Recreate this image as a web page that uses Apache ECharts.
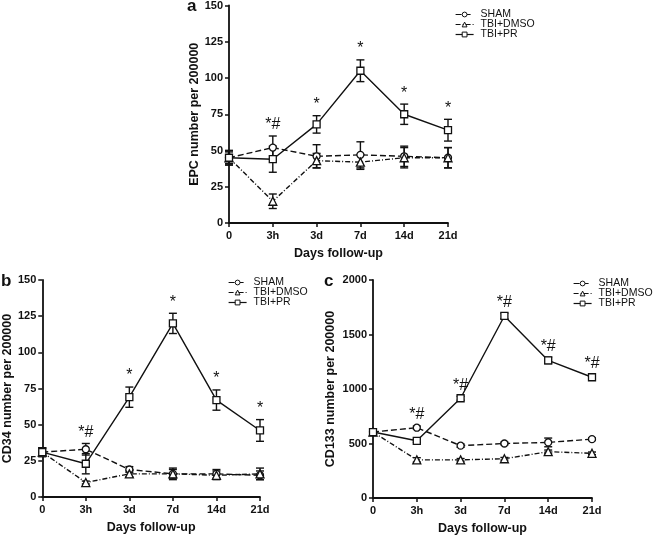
<!DOCTYPE html>
<html><head><meta charset="utf-8">
<script src="https://cdn.jsdelivr.net/npm/echarts@6/dist/echarts.min.js"></script>
<style>html,body{margin:0;padding:0;background:#fff}#c{width:653px;height:546px}</style>
</head><body><div id="c"></div>
<script>
const days = ['0','3h','3d','7d','14d','21d'];
const groups = ['SHAM','TBI+DMSO','TBI+PR'];

// Panel a: EPC
const epcSham = [45,52,46,47,46,45];
const epcShamErr = [5,8,8,9,7,7];
const epcDmso = [45,15,43,42,45,45];
const epcDmsoErr = [4,5,5,5,7,7];
const epcPr = [45,44,68,105,75,64];
const epcPrErr = [5,9,6,7.5,7,7.5];
const epcMarks = ['','*#','*','*','*','*'];
const epcTicks = [0,25,50,75,100,125,150];

// Panel b: CD34
const cd34Sham = [31,33,19,16,16,15];
const cd34ShamErr = [3,4,2,3,3,3];
const cd34Dmso = [31,10,16,16,15,16];
const cd34DmsoErr = [3,1,2,4,3,4];
const cd34Pr = [31,23,69,120,67,46];
const cd34PrErr = [3,7,7,7,7,7.5];
const cd34Marks = ['','*#','*','*','*','*'];
const cd34Ticks = [0,25,50,75,100,125,150];

// Panel c: CD133
const cd133Sham = [605,645,480,500,510,540];
const cd133ShamErr = [15,15,15,12,40,12];
const cd133Dmso = [605,350,350,360,425,410];
const cd133DmsoErr = [15,20,12,12,15,12];
const cd133Pr = [605,525,915,1670,1262,1108];
const cd133PrErr = [15,15,18,25,30,20];
const cd133Marks = ['','*#','*#','*#','*#','*#'];
const cd133Ticks = [0,500,1000,1500,2000];

const FONT = 'Liberation Sans';
const styles = [
  {symbol:'circle', line:[6,3]},
  {symbol:'triangle', line:[5,2,1,2]},
  {symbol:'rect', line:'solid'}
];

const panels = [
  {name:'EPC number per 200000', vals:[epcSham,epcDmso,epcPr], errs:[epcShamErr,epcDmsoErr,epcPrErr], marks:epcMarks, ticks:epcTicks,
   grid:{left:229,top:5,width:219,height:218}, legend:{left:455,top:9}, letter:{t:'a',left:187,top:-2}},
  {name:'CD34 number per 200000', vals:[cd34Sham,cd34Dmso,cd34Pr], errs:[cd34ShamErr,cd34DmsoErr,cd34PrErr], marks:cd34Marks, ticks:cd34Ticks,
   grid:{left:41,top:280,width:219,height:217}, legend:{left:228,top:277}, letter:{t:'b',left:1,top:273}},
  {name:'CD133 number per 200000', vals:[cd133Sham,cd133Dmso,cd133Pr], errs:[cd133ShamErr,cd133DmsoErr,cd133PrErr], marks:cd133Marks, ticks:cd133Ticks,
   grid:{left:373,top:280,width:219,height:218}, legend:{left:573,top:278}, letter:{t:'c',left:324,top:273}}
];

const chart = echarts.init(document.getElementById('c'), null, {renderer:'canvas'});
const grid=[], xAxis=[], yAxis=[], series=[], legend=[], title=[];
const axisLine = {lineStyle:{color:'#111',width:1.8}};
panels.forEach((p,k)=>{
  grid.push(p.grid);
  xAxis.push({type:'category', gridIndex:k, data:days, boundaryGap:false,
    axisLine:axisLine, axisTick:{show:true,length:4,inside:false,lineStyle:{color:'#111',width:1.5}},
    axisLabel:{fontFamily:FONT,fontWeight:'bold',fontSize:11,color:'#111',margin:7},
    name:'Days follow-up', nameLocation:'middle', nameGap:24,
    nameTextStyle:{fontFamily:FONT,fontWeight:'bold',fontSize:12.5,color:'#111'}, splitLine:{show:false}});
  const mx = p.ticks[p.ticks.length-1];
  yAxis.push({type:'value', gridIndex:k, min:0, max:mx, interval:p.ticks[1]-p.ticks[0],
    axisLine:{show:true,...axisLine}, axisTick:{show:true,length:4,lineStyle:{color:'#111',width:1.5}},
    axisLabel:{fontFamily:FONT,fontWeight:'bold',fontSize:11,color:'#111',margin:6, formatter:v=>String(v)},
    splitLine:{show:false},
    name:p.name, nameLocation:'middle', nameGap: mx>=1000?36:28, nameRotate:90,
    nameTextStyle:{fontFamily:FONT,fontWeight:'bold',fontSize:12.5,color:'#111'}});
  groups.forEach((g,s)=>{
    series.push({type:'line', name:g, xAxisIndex:k, yAxisIndex:k, data:p.vals[s],
      symbol:styles[s].symbol, symbolSize: s===1?8:7, showSymbol:true,
      itemStyle:{color:'#fff',borderColor:'#111',borderWidth:1.3},
      lineStyle:{color:'#111',width:1.4,type:styles[s].line}, z:3, animation:false});
    const ed = p.vals[s].map((v,i)=>[i,v,p.errs[s][i]]);
    series.push({type:'custom', xAxisIndex:k, yAxisIndex:k, data:ed, z:2, silent:true, animation:false,
      renderItem:(params,api)=>{
        const i=api.value(0), v=api.value(1), e=api.value(2);
        const hi=api.coord([i,v+e]), lo=api.coord([i,v-e]);
        const st={stroke:'#111',lineWidth:1.4};
        return {type:'group',children:[
          {type:'line',shape:{x1:hi[0],y1:hi[1],x2:lo[0],y2:lo[1]},style:st},
          {type:'line',shape:{x1:hi[0]-4,y1:hi[1],x2:hi[0]+4,y2:hi[1]},style:st},
          {type:'line',shape:{x1:lo[0]-4,y1:lo[1],x2:lo[0]+4,y2:lo[1]},style:st}]};
      }});
  });
  const md = p.marks.map((m,i)=>{
    const top = Math.max(...[0,1,2].map(s=>p.vals[s][i]+p.errs[s][i]));
    return [i, top, m];
  }).filter(d=>d[2]);
  series.push({type:'custom', xAxisIndex:k, yAxisIndex:k, data:md, z:4, silent:true, animation:false,
    renderItem:(params,api)=>{
      const c=api.coord([api.value(0),api.value(1)]);
      return {type:'text', x:c[0], y:c[1]-3, style:{text:p.marks[api.value(0)], fontFamily:FONT, fontSize:16, fill:'#111', align:'center', verticalAlign:'bottom'}};
    }});
  legend.push({orient:'vertical', left:p.legend.left, top:p.legend.top, data:groups, itemWidth:18, itemHeight:6, itemGap:-1,
    itemStyle:{color:'#fff',borderColor:'#111',borderWidth:1},
    lineStyle:{width:1.2,color:'#111'},
    textStyle:{fontFamily:FONT,fontSize:10.5,lineHeight:11,color:'#111',padding:[0,0,0,2]}, selectedMode:false, padding:0});
  title.push({text:p.letter.t, left:p.letter.left, top:p.letter.top, padding:0,
    textStyle:{fontFamily:FONT,fontWeight:'bold',fontSize:17,color:'#111'}});
});
chart.setOption({animation:false, grid, xAxis, yAxis, series, legend, title});
</script></body></html>
